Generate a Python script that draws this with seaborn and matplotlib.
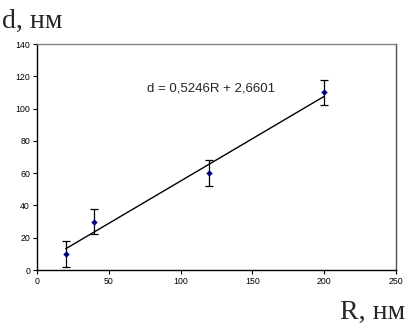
import matplotlib
matplotlib.use("Agg")
import matplotlib.pyplot as plt
import seaborn as sns
import numpy as np
import pandas as pd

# Data
R_vals = [20, 40, 120, 200]
d_vals = [10, 30, 60, 110]
d_err = [8, 8, 8, 8]
slope = 0.5246
intercept = 2.6601
x_ticks = [0, 50, 100, 150, 200, 250]
y_ticks = [0, 20, 40, 60, 80, 100, 120, 140]
equation = "d = 0,5246R + 2,6601"

sns.set_style("white")
plt.rcParams['font.family'] = ['Liberation Sans', 'DejaVu Sans']

fig = plt.figure(figsize=(4.08, 3.26), dpi=100)
ax = fig.add_axes([37/408, 56/326, (396-37)/408, (270-44)/326])

df = pd.DataFrame({"R": R_vals, "d": d_vals})
fit_x = np.array([min(R_vals), max(R_vals)])
fit_df = pd.DataFrame({"R": fit_x, "d": slope * fit_x + intercept})

sns.lineplot(data=fit_df, x="R", y="d", ax=ax, color="black", linewidth=1.0)
ax.errorbar(R_vals, d_vals, yerr=d_err, fmt="none", ecolor="black",
            elinewidth=0.9, capsize=3, capthick=0.9, zorder=3)
sns.scatterplot(data=df, x="R", y="d", ax=ax, marker="D", s=9,
                color="#000080", edgecolor="#000080", zorder=4)

ax.set_xlim(0, 250)
ax.set_ylim(0, 140)
ax.set_xticks(x_ticks)
ax.set_yticks(y_ticks)
ax.tick_params(axis="both", labelsize=6.3, length=3, width=0.8,
               direction="out", pad=2, colors="black")
ax.tick_params(bottom=True, left=True)
ax.set_xlabel("")
ax.set_ylabel("")

for s in ["left", "bottom"]:
    ax.spines[s].set_color("black")
    ax.spines[s].set_linewidth(1.0)
ax.spines["top"].set_color("#808080")
ax.spines["top"].set_linewidth(1.0)
ax.spines["right"].set_color("#505050")
ax.spines["right"].set_linewidth(1.0)

ax.text(121, 112.5, equation, fontsize=9.5, ha="center", va="center")

fig.text(2/408, 1 - 28/326, "d, нм", fontsize=20,
         family=["Liberation Serif", "DejaVu Serif"], ha="left", va="baseline")
fig.text(405/408, 1 - 319/326, "R, нм", fontsize=20,
         family=["Liberation Serif", "DejaVu Serif"], ha="right", va="baseline")

fig.savefig("out.png", dpi=100)
